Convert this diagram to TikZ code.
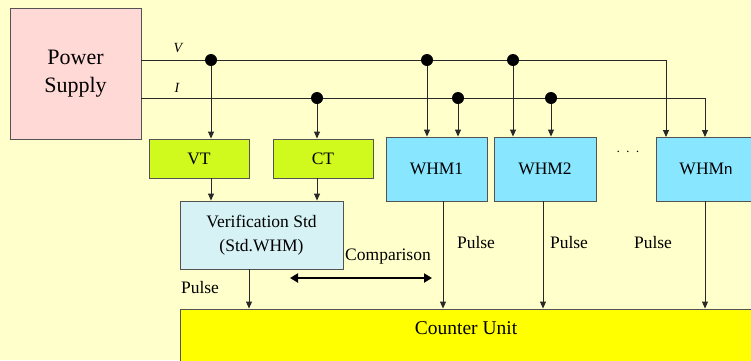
\documentclass[tikz,border=0pt]{standalone}
\usepackage{fontspec}
\setmainfont{Liberation Serif}
\newfontfamily\sansn{Liberation Sans}
\usetikzlibrary{arrows.meta}
\definecolor{bg}{RGB}{255,255,204}
\definecolor{psfill}{RGB}{255,217,214}
\definecolor{tfill}{RGB}{208,250,30}
\definecolor{wfill}{RGB}{136,230,255}
\definecolor{vfill}{RGB}{214,242,245}
\definecolor{cfill}{RGB}{255,255,0}
\definecolor{ln}{RGB}{40,40,40}
\begin{document}
\begin{tikzpicture}[x=1pt,y=-1pt,
  box/.style={draw=ln!80,line width=0.9pt,inner sep=0pt,rectangle},
  dotnode/.style={circle,fill=black,inner sep=0pt,minimum size=12pt},
  wire/.style={draw=ln,line width=0.9pt},
  arr/.style={wire,-{Triangle[length=7pt,width=6pt]}},
  txt/.style={font=\fontsize{17.5}{21}\selectfont,inner sep=0pt},
  lbl/.style={font=\fontsize{14}{16}\selectfont\itshape,inner sep=0pt}]
\clip (0,0) rectangle (751,360);
\fill[bg] (0,0) rectangle (751,360);
% boxes
\node[box,fill=psfill,minimum width=131pt,minimum height=131pt,align=center,
  font=\fontsize{22}{28}\selectfont] (ps) at (75.5,73.5) {Power\\Supply};
\node[box,fill=tfill,minimum width=100pt,minimum height=39pt,txt] (vt) at (199,158.5) {VT};
\node[box,fill=tfill,minimum width=100pt,minimum height=39pt,txt] (ct) at (323,158.5) {CT};
\node[box,fill=wfill,minimum width=101pt,minimum height=64pt,txt] (w1) at (436.5,169) {WHM1};
\node[box,fill=wfill,minimum width=102pt,minimum height=64pt,txt] (w2) at (545,169) {WHM2};
\node[box,fill=wfill,minimum width=100pt,minimum height=64pt,txt] (wn) at (706,169) {WHM{\sansn\fontsize{15}{18}\selectfont n}};
\node[box,fill=vfill,minimum width=163pt,minimum height=68pt,inner sep=0pt,
  font=\fontsize{17.5}{24}\selectfont] (vs) at (261.5,235)
  {\raisebox{5pt}{\begin{tabular}{@{}c@{}}Verification Std\\(Std.WHM)\end{tabular}}};
\node[box,fill=cfill,minimum width=580pt,minimum height=61pt] (cu) at (470,339.5) {};
\node[font=\fontsize{19.5}{22}\selectfont,inner sep=0pt] (cut) at (466,328) {Counter Unit};
% dots
\node[dotnode] (d1) at (211,60) {};
\node[dotnode] (d2) at (427,60) {};
\node[dotnode] (d3) at (513,60) {};
\node[dotnode] (e1) at (317,98) {};
\node[dotnode] (e2) at (458,98) {};
\node[dotnode] (e3) at (551,98) {};
\coordinate (vn) at (666,137);
\coordinate (in) at (705,137);
% main lines
\draw[arr] (ps.east |- d1) -- (d1) -- (d2) -- (d3) -| (vn);
\draw[arr] (ps.east |- e1) -- (e1) -- (e2) -- (e3) -| (in);
\node[lbl] (vl) at (178,48) {V};
\node[lbl] (il) at (177,88) {I};
% drops
\draw[arr] (d1) -- (d1 |- vt.north);
\draw[arr] (e1) -- (e1 |- ct.north);
\draw[arr] (d2) -- (d2 |- w1.north);
\draw[arr] (e2) -- (e2 |- w1.north);
\draw[arr] (d3) -- (d3 |- w2.north);
\draw[arr] (e3) -- (e3 |- w2.north);
\draw[arr] (vt.south -| d1) -- (d1 |- vs.north);
\draw[arr] (ct.south -| e1) -- (e1 |- vs.north);
% pulses
\coordinate (p0) at (249,0);
\coordinate (p1) at (443,0);
\coordinate (p2) at (543,0);
\draw[arr] (vs.south -| p0) -- (cu.north -| p0);
\draw[arr] (w1.south -| p1) -- (cu.north -| p1);
\draw[arr] (w2.south -| p2) -- (cu.north -| p2);
\draw[arr] (wn.south -| in) -- (cu.north -| in);
\node[txt] (pl0) at (200,288) {Pulse};
\node[txt] (pl1) at (476,243) {Pulse};
\node[txt] (pl2) at (569,243) {Pulse};
\node[txt] (pl3) at (653,243) {Pulse};
% comparison
\coordinate (ca) at (290,278);
\coordinate (cb) at (432,278);
\draw[line width=2.8pt,{Triangle[length=8pt,width=9pt]}-{Triangle[length=8pt,width=9pt]}] (ca) -- (cb);
\node[txt] (cmp) at (388,257) {Comparison};
\node[font=\fontsize{14}{16}\selectfont,inner sep=0pt] (dots) at (628,152) {$\cdot\,\cdot\,\cdot$};
\end{tikzpicture}
\end{document}
